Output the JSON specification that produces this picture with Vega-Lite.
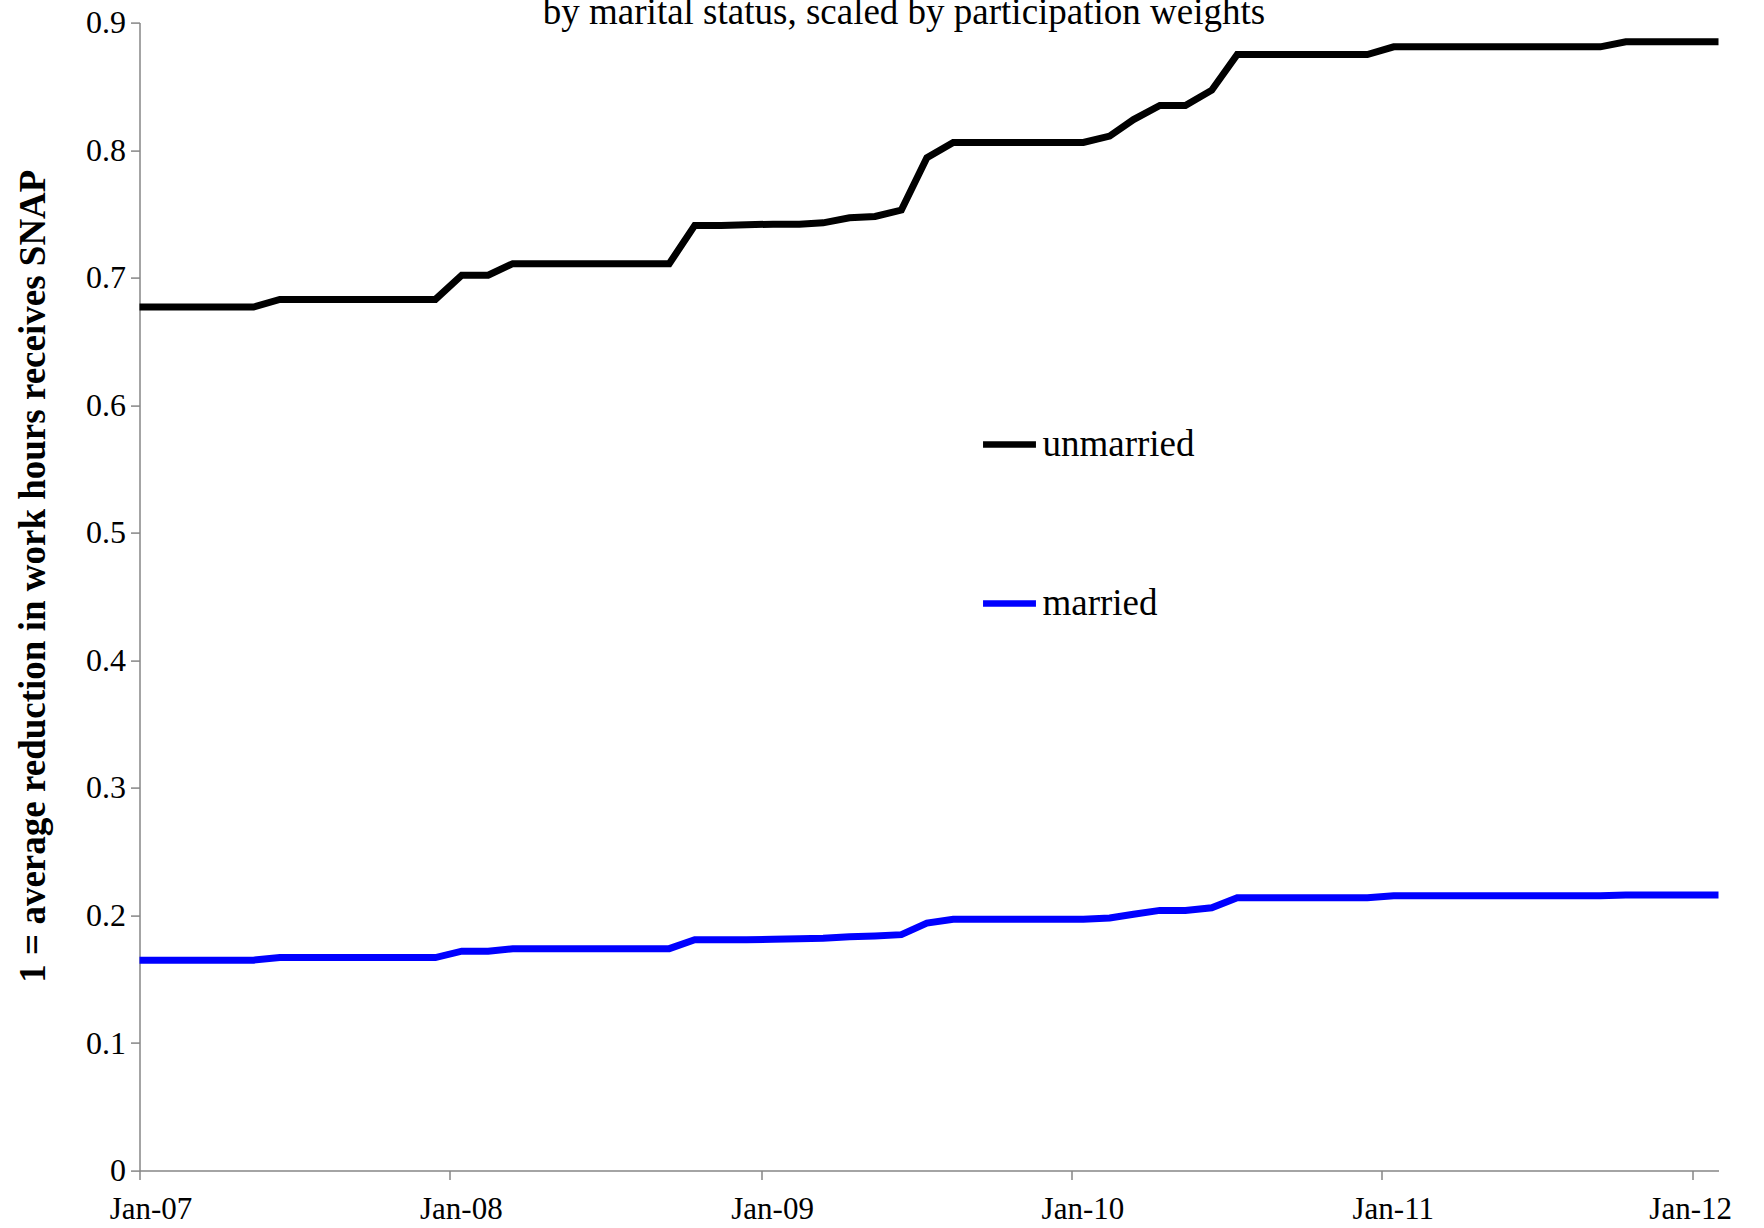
{
  "$schema": "https://vega.github.io/schema/vega-lite/v6.json",
  "width": 1579,
  "height": 1148,
  "autosize": "none",
  "padding": {"left": 139.5, "top": 22.6, "right": 45.5, "bottom": 57.4},
  "background": "white",
  "title": {"text": "by marital status, scaled by participation weights", "font": "Liberation Serif", "fontSize": 37, "fontWeight": "normal", "color": "black", "anchor": "middle", "frame": "group", "dx": -25, "offset": -54, "baseline": "alphabetic"},
  "data": {"values": [
    {"date": "2006-12-15", "status": "unmarried", "value": 0.677},
    {"date": "2007-01-15", "status": "unmarried", "value": 0.677},
    {"date": "2007-02-15", "status": "unmarried", "value": 0.677},
    {"date": "2007-03-15", "status": "unmarried", "value": 0.677},
    {"date": "2007-04-15", "status": "unmarried", "value": 0.677},
    {"date": "2007-05-15", "status": "unmarried", "value": 0.677},
    {"date": "2007-06-15", "status": "unmarried", "value": 0.683},
    {"date": "2007-07-15", "status": "unmarried", "value": 0.683},
    {"date": "2007-08-15", "status": "unmarried", "value": 0.683},
    {"date": "2007-09-15", "status": "unmarried", "value": 0.683},
    {"date": "2007-10-15", "status": "unmarried", "value": 0.683},
    {"date": "2007-11-15", "status": "unmarried", "value": 0.683},
    {"date": "2007-12-15", "status": "unmarried", "value": 0.683},
    {"date": "2008-01-15", "status": "unmarried", "value": 0.702},
    {"date": "2008-02-15", "status": "unmarried", "value": 0.702},
    {"date": "2008-03-15", "status": "unmarried", "value": 0.711},
    {"date": "2008-04-15", "status": "unmarried", "value": 0.711},
    {"date": "2008-05-15", "status": "unmarried", "value": 0.711},
    {"date": "2008-06-15", "status": "unmarried", "value": 0.711},
    {"date": "2008-07-15", "status": "unmarried", "value": 0.711},
    {"date": "2008-08-15", "status": "unmarried", "value": 0.711},
    {"date": "2008-09-15", "status": "unmarried", "value": 0.711},
    {"date": "2008-10-15", "status": "unmarried", "value": 0.741},
    {"date": "2008-11-15", "status": "unmarried", "value": 0.741},
    {"date": "2008-12-15", "status": "unmarried", "value": 0.7415},
    {"date": "2009-01-15", "status": "unmarried", "value": 0.742},
    {"date": "2009-02-15", "status": "unmarried", "value": 0.742},
    {"date": "2009-03-15", "status": "unmarried", "value": 0.743},
    {"date": "2009-04-15", "status": "unmarried", "value": 0.747},
    {"date": "2009-05-15", "status": "unmarried", "value": 0.748},
    {"date": "2009-06-15", "status": "unmarried", "value": 0.753},
    {"date": "2009-07-15", "status": "unmarried", "value": 0.794},
    {"date": "2009-08-15", "status": "unmarried", "value": 0.806},
    {"date": "2009-09-15", "status": "unmarried", "value": 0.806},
    {"date": "2009-10-15", "status": "unmarried", "value": 0.806},
    {"date": "2009-11-15", "status": "unmarried", "value": 0.806},
    {"date": "2009-12-15", "status": "unmarried", "value": 0.806},
    {"date": "2010-01-15", "status": "unmarried", "value": 0.806},
    {"date": "2010-02-15", "status": "unmarried", "value": 0.811},
    {"date": "2010-03-15", "status": "unmarried", "value": 0.824},
    {"date": "2010-04-15", "status": "unmarried", "value": 0.835},
    {"date": "2010-05-15", "status": "unmarried", "value": 0.835},
    {"date": "2010-06-15", "status": "unmarried", "value": 0.847},
    {"date": "2010-07-15", "status": "unmarried", "value": 0.875},
    {"date": "2010-08-15", "status": "unmarried", "value": 0.875},
    {"date": "2010-09-15", "status": "unmarried", "value": 0.875},
    {"date": "2010-10-15", "status": "unmarried", "value": 0.875},
    {"date": "2010-11-15", "status": "unmarried", "value": 0.875},
    {"date": "2010-12-15", "status": "unmarried", "value": 0.875},
    {"date": "2011-01-15", "status": "unmarried", "value": 0.881},
    {"date": "2011-02-15", "status": "unmarried", "value": 0.881},
    {"date": "2011-03-15", "status": "unmarried", "value": 0.881},
    {"date": "2011-04-15", "status": "unmarried", "value": 0.881},
    {"date": "2011-05-15", "status": "unmarried", "value": 0.881},
    {"date": "2011-06-15", "status": "unmarried", "value": 0.881},
    {"date": "2011-07-15", "status": "unmarried", "value": 0.881},
    {"date": "2011-08-15", "status": "unmarried", "value": 0.881},
    {"date": "2011-09-15", "status": "unmarried", "value": 0.881},
    {"date": "2011-10-15", "status": "unmarried", "value": 0.885},
    {"date": "2011-11-15", "status": "unmarried", "value": 0.885},
    {"date": "2011-12-15", "status": "unmarried", "value": 0.885},
    {"date": "2012-01-15", "status": "unmarried", "value": 0.885},
    {"date": "2012-02-15", "status": "unmarried", "value": 0.885},
    {"date": "2006-12-15", "status": "married", "value": 0.165},
    {"date": "2007-01-15", "status": "married", "value": 0.165},
    {"date": "2007-02-15", "status": "married", "value": 0.165},
    {"date": "2007-03-15", "status": "married", "value": 0.165},
    {"date": "2007-04-15", "status": "married", "value": 0.165},
    {"date": "2007-05-15", "status": "married", "value": 0.165},
    {"date": "2007-06-15", "status": "married", "value": 0.167},
    {"date": "2007-07-15", "status": "married", "value": 0.167},
    {"date": "2007-08-15", "status": "married", "value": 0.167},
    {"date": "2007-09-15", "status": "married", "value": 0.167},
    {"date": "2007-10-15", "status": "married", "value": 0.167},
    {"date": "2007-11-15", "status": "married", "value": 0.167},
    {"date": "2007-12-15", "status": "married", "value": 0.167},
    {"date": "2008-01-15", "status": "married", "value": 0.172},
    {"date": "2008-02-15", "status": "married", "value": 0.172},
    {"date": "2008-03-15", "status": "married", "value": 0.174},
    {"date": "2008-04-15", "status": "married", "value": 0.174},
    {"date": "2008-05-15", "status": "married", "value": 0.174},
    {"date": "2008-06-15", "status": "married", "value": 0.174},
    {"date": "2008-07-15", "status": "married", "value": 0.174},
    {"date": "2008-08-15", "status": "married", "value": 0.174},
    {"date": "2008-09-15", "status": "married", "value": 0.174},
    {"date": "2008-10-15", "status": "married", "value": 0.181},
    {"date": "2008-11-15", "status": "married", "value": 0.181},
    {"date": "2008-12-15", "status": "married", "value": 0.181},
    {"date": "2009-01-15", "status": "married", "value": 0.1813},
    {"date": "2009-02-15", "status": "married", "value": 0.1817},
    {"date": "2009-03-15", "status": "married", "value": 0.1822},
    {"date": "2009-04-15", "status": "married", "value": 0.1833},
    {"date": "2009-05-15", "status": "married", "value": 0.184},
    {"date": "2009-06-15", "status": "married", "value": 0.185},
    {"date": "2009-07-15", "status": "married", "value": 0.194},
    {"date": "2009-08-15", "status": "married", "value": 0.197},
    {"date": "2009-09-15", "status": "married", "value": 0.197},
    {"date": "2009-10-15", "status": "married", "value": 0.197},
    {"date": "2009-11-15", "status": "married", "value": 0.197},
    {"date": "2009-12-15", "status": "married", "value": 0.197},
    {"date": "2010-01-15", "status": "married", "value": 0.197},
    {"date": "2010-02-15", "status": "married", "value": 0.198},
    {"date": "2010-03-15", "status": "married", "value": 0.201},
    {"date": "2010-04-15", "status": "married", "value": 0.204},
    {"date": "2010-05-15", "status": "married", "value": 0.204},
    {"date": "2010-06-15", "status": "married", "value": 0.206},
    {"date": "2010-07-15", "status": "married", "value": 0.214},
    {"date": "2010-08-15", "status": "married", "value": 0.214},
    {"date": "2010-09-15", "status": "married", "value": 0.214},
    {"date": "2010-10-15", "status": "married", "value": 0.214},
    {"date": "2010-11-15", "status": "married", "value": 0.214},
    {"date": "2010-12-15", "status": "married", "value": 0.214},
    {"date": "2011-01-15", "status": "married", "value": 0.2155},
    {"date": "2011-02-15", "status": "married", "value": 0.2155},
    {"date": "2011-03-15", "status": "married", "value": 0.2155},
    {"date": "2011-04-15", "status": "married", "value": 0.2155},
    {"date": "2011-05-15", "status": "married", "value": 0.2155},
    {"date": "2011-06-15", "status": "married", "value": 0.2155},
    {"date": "2011-07-15", "status": "married", "value": 0.2155},
    {"date": "2011-08-15", "status": "married", "value": 0.2155},
    {"date": "2011-09-15", "status": "married", "value": 0.2155},
    {"date": "2011-10-15", "status": "married", "value": 0.216},
    {"date": "2011-11-15", "status": "married", "value": 0.216},
    {"date": "2011-12-15", "status": "married", "value": 0.216},
    {"date": "2012-01-15", "status": "married", "value": 0.216},
    {"date": "2012-02-15", "status": "married", "value": 0.216}
  ]},
  "mark": {"type": "line", "strokeWidth": 7, "clip": true, "strokeCap": "butt", "strokeJoin": "miter"},
  "encoding": {
    "x": {
      "field": "date", "type": "temporal",
      "scale": {"type": "utc", "domain": [{"year": 2007, "month": 1, "date": 1, "utc": true}, {"year": 2012, "month": 2, "date": 1, "utc": true}]},
      "axis": {
        "title": null,
        "values": [
          {"year": 2007, "month": 1, "date": 1, "utc": true},
          {"year": 2008, "month": 1, "date": 1, "utc": true},
          {"year": 2009, "month": 1, "date": 1, "utc": true},
          {"year": 2010, "month": 1, "date": 1, "utc": true},
          {"year": 2011, "month": 1, "date": 1, "utc": true},
          {"year": 2012, "month": 1, "date": 1, "utc": true}
        ],
        "format": "%b-%y", "labelFlush": false, "labelOverlap": false,
        "labelFont": "Liberation Serif", "labelFontSize": 31, "labelColor": "black",
        "labelPadding": 15, "tickSize": 9,
        "labelOffset": {"condition": {"test": "utcyear(datum.value) == 2012", "value": -2}, "value": 11}
      }
    },
    "y": {
      "field": "value", "type": "quantitative",
      "scale": {"domain": [0, 0.9], "nice": false, "zero": true},
      "axis": {
        "title": "1 = average reduction in work hours receives SNAP",
        "titleFont": "Liberation Serif", "titleFontSize": 37, "titleFontWeight": "bold", "titleColor": "black",
        "titleX": -106, "titleY": 553, "titleAngle": -90, "titleAlign": "center", "titleBaseline": "middle",
        "values": [0, 0.1, 0.2, 0.3, 0.4, 0.5, 0.6, 0.7, 0.8, 0.9],
        "format": ".1~f",
        "labelFont": "Liberation Serif", "labelFontSize": 32, "labelColor": "black",
        "labelPadding": 5, "tickSize": 9
      }
    },
    "color": {
      "field": "status", "type": "nominal",
      "scale": {"domain": ["unmarried", "married"], "range": ["#000000", "#0000FF"]},
      "legend": {
        "title": null, "orient": "none", "legendX": 840, "legendY": 392,
        "symbolType": "stroke", "symbolSize": 2800, "symbolStrokeWidth": 6.5,
        "labelFont": "Liberation Serif", "labelFontSize": 37, "labelColor": "black",
        "labelOffset": 3, "rowPadding": 111, "padding": 0
      }
    }
  },
  "config": {
    "view": {"stroke": null},
    "axis": {"grid": false, "domainColor": "#868686", "tickColor": "#868686", "domainWidth": 1.5, "tickWidth": 1.5}
  }
}
